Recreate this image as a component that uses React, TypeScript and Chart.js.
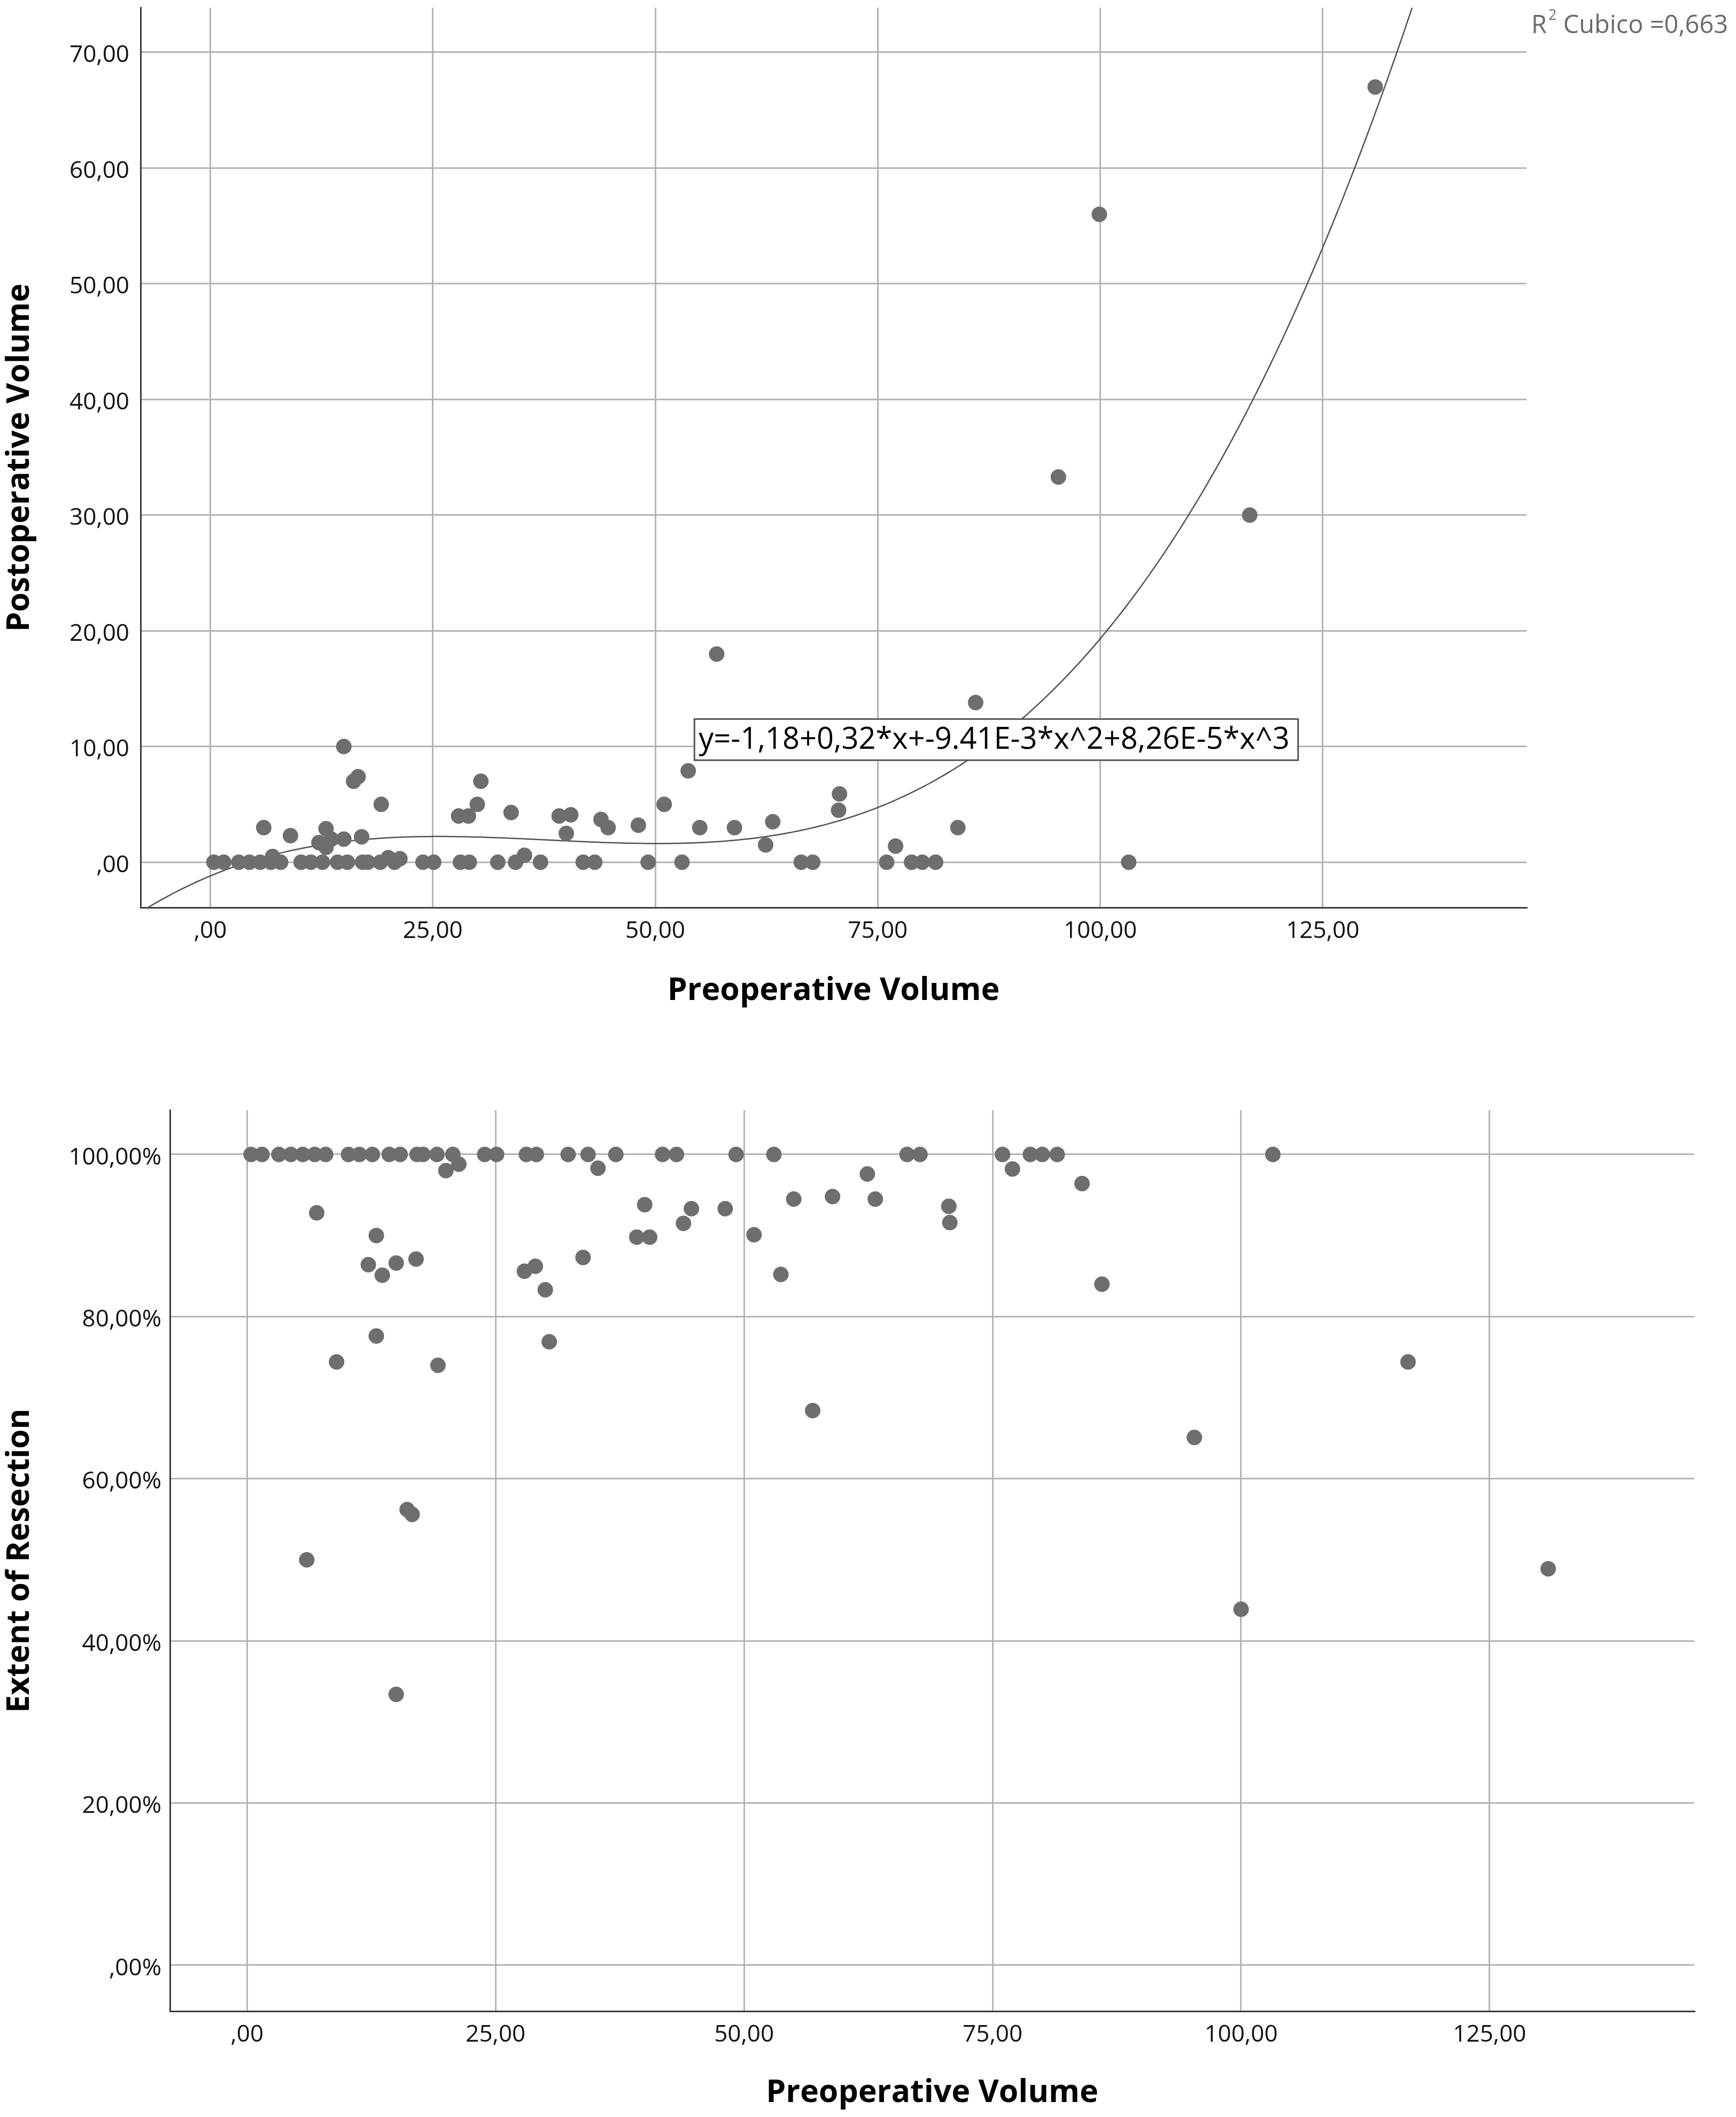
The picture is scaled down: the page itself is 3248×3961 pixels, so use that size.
import { useEffect, useRef } from 'react'
import { Chart, registerables } from 'chart.js'

Chart.register(...registerables)

// ---- upper panel: postoperative vs preoperative volume (one entry per patient) ----
const volPreop = [
  0.4, 1.5, 3.2, 4.4, 5.6, 6.8, 7.9, 10.2, 11.3, 12.6, 14.3, 15.4, 17.1, 17.7, 19.1, 20.7,
  23.9, 25.1, 28.1, 29.1, 32.3, 34.3, 37.1, 41.9, 43.2, 49.2, 53.0, 66.4, 67.7, 76.0, 78.8,
  80.0, 81.5, 103.2,
  6.0, 7.0, 9.0, 12.2, 13.0, 13.0, 13.6, 15.0, 15.0, 16.1, 16.6, 17.0, 19.2, 20.0, 21.3,
  27.9, 29.0, 30.0, 30.4, 33.8, 35.3, 39.2, 40.0, 40.5, 43.9, 44.7, 48.1, 51.0, 53.7, 55.0,
  56.9, 58.9, 62.4, 63.2, 70.6, 70.7, 77.0, 84.0, 86.0, 95.3, 99.9, 116.8, 130.9,
]
const volPostop = [
  0, 0, 0, 0, 0, 0, 0, 0, 0, 0, 0, 0, 0, 0, 0, 0,
  0, 0, 0, 0, 0, 0, 0, 0, 0, 0, 0, 0, 0, 0, 0,
  0, 0, 0,
  3.0, 0.5, 2.3, 1.7, 1.3, 2.9, 2.0, 2.0, 10.0, 7.0, 7.4, 2.2, 5.0, 0.4, 0.3,
  4.0, 4.0, 5.0, 7.0, 4.3, 0.6, 4.0, 2.5, 4.1, 3.7, 3.0, 3.2, 5.0, 7.9, 3.0,
  18.0, 3.0, 1.5, 3.5, 4.5, 5.9, 1.4, 3.0, 13.8, 33.3, 56.0, 30.0, 67.0,
]
const volXTicks = [0, 25, 50, 75, 100, 125]
const volYTicks = [0, 10, 20, 30, 40, 50, 60, 70]

// cubic fit as printed on the chart (b0..b3), its label and R²
const fitCoef = [-1.18, 0.32, -9.41e-3, 8.26e-5]
const fitLabel = 'y=-1,18+0,32*x+-9.41E-3*x^2+8,26E-5*x^3'
const fitLabelAt = [54.4, 10.6]
const fitR2 = '0,663'

// ---- lower panel: extent of resection vs preoperative volume ----
const eorPreop = [
  0.4, 1.5, 3.2, 4.4, 5.6, 6.8, 7.9, 10.2, 11.3, 12.6, 14.3, 15.4, 17.1, 17.7, 19.1, 20.7,
  23.9, 25.1, 28.1, 29.1, 32.3, 34.3, 37.1, 41.8, 43.2, 49.2, 53.0, 66.4, 67.7, 76.0, 78.8,
  80.0, 81.5, 103.2,
  6.0, 7.0, 9.0, 12.2, 13.0, 13.0, 13.6, 15.0, 15.0, 16.1, 16.6, 17.0, 19.2, 20.0, 21.3,
  27.9, 29.0, 30.0, 30.4, 33.8, 35.3, 39.2, 40.0, 40.5, 43.9, 44.7, 48.1, 51.0, 53.7, 55.0,
  56.9, 58.9, 62.4, 63.2, 70.6, 70.7, 77.0, 84.0, 86.0, 95.3, 100.0, 116.8, 130.9,
]
const eorPercent = [
  100, 100, 100, 100, 100, 100, 100, 100, 100, 100, 100, 100, 100, 100, 100, 100,
  100, 100, 100, 100, 100, 100, 100, 100, 100, 100, 100, 100, 100, 100, 100,
  100, 100, 100,
  50.0, 92.8, 74.4, 86.4, 90.0, 77.6, 85.1, 86.6, 33.4, 56.2, 55.6, 87.1, 74.0, 98.0, 98.8,
  85.6, 86.2, 83.3, 76.9, 87.3, 98.3, 89.8, 93.8, 89.8, 91.5, 93.3, 93.3, 90.1, 85.2, 94.5,
  68.4, 94.8, 97.6, 94.5, 93.6, 91.6, 98.2, 96.4, 84.0, 65.1, 43.9, 74.4, 48.9,
]
const eorXTicks = [0, 25, 50, 75, 100, 125]
const eorYTicks = [0, 20, 40, 60, 80, 100]

const FONT = "'Open Sans', 'DejaVu Sans', sans-serif"
const DOT = '#6e6e6e'
const GRID = '#b4b4b4'
const AXIS = '#3c3c3c'

Chart.defaults.font.family = FONT

const commaNum = (v: number) => (v === 0 ? ',00' : v.toFixed(2).replace('.', ','))
const commaPct = (v: number) => commaNum(v) + '%'

const fixedTicks = (values: number[]) => (scale: any) => {
  scale.ticks = values.map(value => ({ value }))
}

function buildAxis(o: {
  min: number
  max: number
  ticks: number[]
  size: number
  title: string
  titlePad: any
  labelPad: number
  fmt: (v: number) => string
  vertical?: boolean
}) {
  return {
    type: 'linear',
    min: o.min,
    max: o.max,
    afterBuildTicks: fixedTicks(o.ticks),
    afterFit: (scale: any) => {
      if (o.vertical) scale.width = o.size
      else scale.height = o.size
      // keep the plot area exactly where the layout padding puts it
      scale.paddingTop = 0
      scale.paddingBottom = 0
      scale.paddingLeft = 0
      scale.paddingRight = 0
    },
    grid: { color: GRID, lineWidth: 3, drawTicks: false },
    border: { display: true, color: AXIS, width: 3 },
    ticks: {
      includeBounds: false,
      padding: o.labelPad,
      labelOffset: o.vertical ? 6 : 0,
      color: '#111',
      font: { size: 44 },
      maxRotation: 0,
      autoSkip: false,
      callback: (v: any) => o.fmt(Number(v)),
    },
    title: {
      display: true,
      text: o.title,
      color: '#000',
      font: { size: 59, weight: 'bold' },
      padding: o.titlePad,
    },
  }
}

// curve of the printed cubic fit
function fitCurve() {
  const pts: { x: number; y: number }[] = []
  for (let x = -8; x <= 137; x += 0.5) {
    const y = fitCoef[0] + fitCoef[1] * x + fitCoef[2] * x * x + fitCoef[3] * x * x * x
    pts.push({ x, y })
  }
  return pts
}

const fitAnnotations = {
  id: 'fitAnnotations',
  afterDatasetsDraw(chart: any) {
    const { ctx, scales } = chart
    ctx.save()
    ctx.font = `56px ${FONT}`
    const tw = ctx.measureText(fitLabel).width
    const left = scales.x.getPixelForValue(fitLabelAt[0])
    const cy = scales.y.getPixelForValue(fitLabelAt[1])
    const h = 77
    ctx.fillStyle = '#fff'
    ctx.fillRect(left, cy - h / 2, tw + 24, h)
    ctx.strokeStyle = '#555'
    ctx.lineWidth = 3
    ctx.strokeRect(left, cy - h / 2, tw + 24, h)
    ctx.fillStyle = '#000'
    ctx.textBaseline = 'middle'
    ctx.fillText(fitLabel, left + 8, cy + 1)
    ctx.restore()
  },
  afterDraw(chart: any) {
    const { ctx, chartArea } = chart
    ctx.save()
    ctx.fillStyle = '#6b6b6b'
    ctx.textBaseline = 'alphabetic'
    let x = chartArea.right + 9
    ctx.font = `47px ${FONT}`
    ctx.fillText('R', x, 62)
    x += ctx.measureText('R').width + 3
    ctx.font = `27px ${FONT}`
    ctx.fillText('2', x, 37)
    x += ctx.measureText('2').width
    ctx.font = `47px ${FONT}`
    ctx.fillText(' Cubico =' + fitR2, x, 62)
    ctx.restore()
  },
}

const baseOptions = {
  responsive: false,
  animation: false,
  devicePixelRatio: 1,
  events: [],
  plugins: { legend: { display: false }, tooltip: { enabled: false } },
}

function VolumePanel() {
  const chartRef = useRef<HTMLCanvasElement>(null)
  const chartInstance = useRef<Chart | null>(null)

  useEffect(() => {
    if (!chartRef.current) return
    if (chartInstance.current) chartInstance.current.destroy()

    chartInstance.current = new Chart(chartRef.current, {
      type: 'scatter',
      data: {
        datasets: [
          {
            data: volPreop.map((x, i) => ({ x, y: volPostop[i] })),
            backgroundColor: DOT,
            borderWidth: 0,
            pointRadius: 14.5,
            order: 0,
          },
          {
            data: fitCurve(),
            showLine: true,
            borderColor: '#505050',
            borderWidth: 2.5,
            pointRadius: 0,
            order: 1,
          },
        ],
      },
      options: {
        ...baseOptions,
        layout: { padding: { left: 0, top: 13, right: 392, bottom: 0 } },
        scales: {
          x: buildAxis({
            min: -7.84, max: 147.9, ticks: volXTicks, size: 262,
            title: 'Preoperative Volume', titlePad: { top: 0, bottom: 70 },
            labelPad: 18, fmt: commaNum,
          }),
          y: buildAxis({
            min: -3.91, max: 73.85, ticks: volYTicks, size: 263,
            title: 'Postoperative Volume', titlePad: { top: 2, bottom: 0 },
            labelPad: 21, fmt: commaNum, vertical: true,
          }),
        },
      } as any,
      plugins: [fitAnnotations],
    })

    return () => {
      if (chartInstance.current) chartInstance.current.destroy()
      chartInstance.current = null
    }
  }, [])

  return (
    <canvas
      ref={chartRef}
      width={3248}
      height={1960}
      style={{ position: 'absolute', left: 0, top: 0, display: 'block' }}
    ></canvas>
  )
}

function ResectionPanel() {
  const chartRef = useRef<HTMLCanvasElement>(null)
  const chartInstance = useRef<Chart | null>(null)

  useEffect(() => {
    if (!chartRef.current) return
    if (chartInstance.current) chartInstance.current.destroy()

    chartInstance.current = new Chart(chartRef.current, {
      type: 'scatter',
      data: {
        datasets: [
          {
            data: eorPreop.map((x, i) => ({ x, y: eorPercent[i] })),
            backgroundColor: DOT,
            borderWidth: 0,
            pointRadius: 14.5,
          },
        ],
      },
      options: {
        ...baseOptions,
        layout: { padding: { left: 0, top: 117, right: 78, bottom: 0 } },
        scales: {
          x: buildAxis({
            min: -7.76, max: 145.6, ticks: eorXTicks, size: 198,
            title: 'Preoperative Volume', titlePad: { top: 0, bottom: 9 },
            labelPad: 18, fmt: commaNum,
          }),
          y: buildAxis({
            min: -5.67, max: 105.47, ticks: eorYTicks, size: 318,
            title: 'Extent of Resection', titlePad: { top: 2, bottom: 0 },
            labelPad: 16, fmt: commaPct, vertical: true,
          }),
        },
      } as any,
    })

    return () => {
      if (chartInstance.current) chartInstance.current.destroy()
      chartInstance.current = null
    }
  }, [])

  return (
    <canvas
      ref={chartRef}
      width={3248}
      height={2001}
      style={{ position: 'absolute', left: 0, top: 1960, display: 'block' }}
    ></canvas>
  )
}

export default function App() {
  return (
    <div
      style={{
        position: 'absolute',
        left: 0,
        top: 0,
        width: 3248,
        height: 3961,
        background: '#fff',
        overflow: 'hidden',
      }}
    >
      <VolumePanel />
      <ResectionPanel />
    </div>
  )
}
